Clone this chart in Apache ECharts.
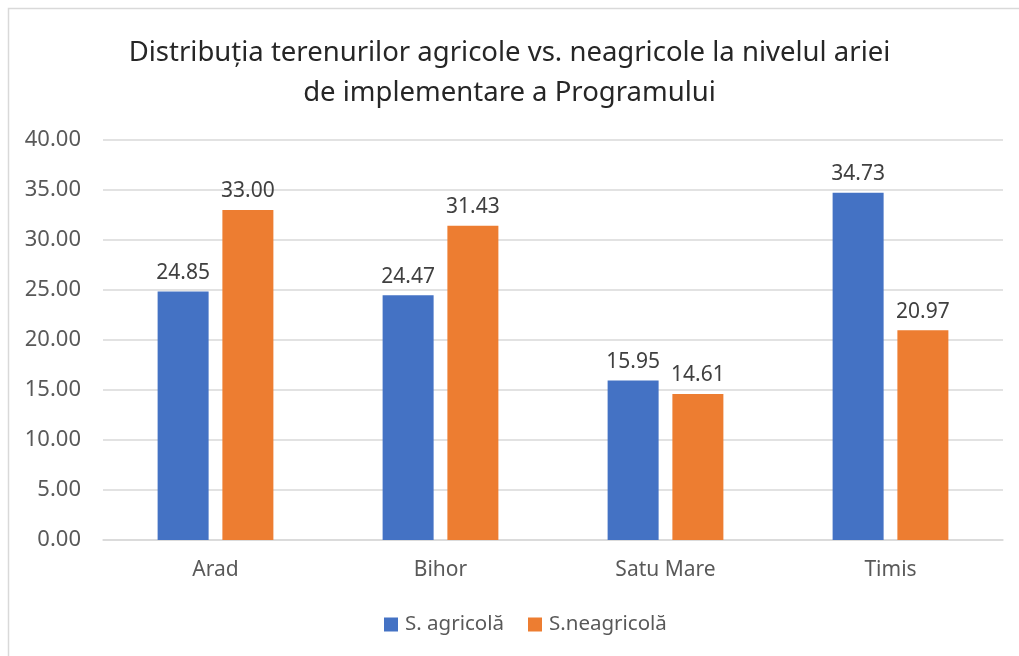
<!DOCTYPE html>
<html>
<head>
<meta charset="utf-8">
<script src="https://cdn.jsdelivr.net/npm/echarts@6/dist/echarts.min.js"></script>
<style>
  html, body { margin: 0; padding: 0; background: #fff; }
  #chart { width: 1019px; height: 656px; }
</style>
</head>
<body>
<div id="chart"></div>
<script>
const categories = ['Arad', 'Bihor', 'Satu Mare', 'Timis']
const agricola = [24.85, 24.47, 15.95, 34.73]
const neagricola = [33.00, 31.43, 14.61, 20.97]
const seriesNames = ['S. agricolă', 'S.neagricolă']

const font = 'Noto Sans'
const chart = echarts.init(document.getElementById('chart'))

const labelStyle = {
  show: true,
  position: 'top',
  distance: 8,
  color: '#404040',
  fontSize: 21,
  fontFamily: font,
  formatter: p => p.value.toFixed(2)
}

chart.setOption({
  animation: false,
  textStyle: { fontFamily: font },
  graphic: [
    {
      type: 'rect',
      shape: { x: 8.5, y: 8.5, width: 1100, height: 700 },
      style: { fill: 'none', stroke: '#d9d9d9', lineWidth: 1.5 }
    }
  ],
  title: {
    text: 'Distribuția terenurilor agricole vs. neagricole la nivelul ariei\nde implementare a Programului',
    left: 'center',
    top: 28,
    padding: [5, 5, 5, 27],
    textStyle: {
      color: '#262626',
      fontSize: 27.5,
      fontWeight: 'normal',
      fontFamily: font,
      lineHeight: 40
    }
  },
  legend: {
    data: seriesNames,
    bottom: 16,
    left: 379,
    icon: 'rect',
    itemWidth: 14,
    itemHeight: 14,
    itemGap: 24,
    textStyle: { color: '#595959', fontSize: 20.5, fontFamily: font, padding: [0, 0, 0, 2] }
  },
  grid: {
    left: 103,
    right: 16,
    top: 140,
    bottom: 116,
    containLabel: false
  },
  xAxis: {
    type: 'category',
    data: categories,
    axisLine: { lineStyle: { color: '#d9d9d9', width: 1.5 } },
    axisTick: { show: false },
    axisLabel: { color: '#595959', fontSize: 21, fontFamily: font, margin: 20 }
  },
  yAxis: {
    type: 'value',
    min: 0,
    max: 40,
    interval: 5,
    axisLine: { show: false },
    axisTick: { show: false },
    splitLine: { lineStyle: { color: '#d9d9d9', width: 1.5 } },
    axisLabel: {
      color: '#595959',
      fontSize: 22,
      fontFamily: font,
      margin: 22,
      formatter: v => v.toFixed(2)
    }
  },
  series: [
    {
      name: seriesNames[0],
      type: 'bar',
      data: agricola,
      barWidth: 51,
      barGap: '27%',
      itemStyle: { color: '#4472c4' },
      label: labelStyle
    },
    {
      name: seriesNames[1],
      type: 'bar',
      data: neagricola,
      barWidth: 51,
      itemStyle: { color: '#ed7d31' },
      label: labelStyle
    }
  ]
})
</script>
</body>
</html>
